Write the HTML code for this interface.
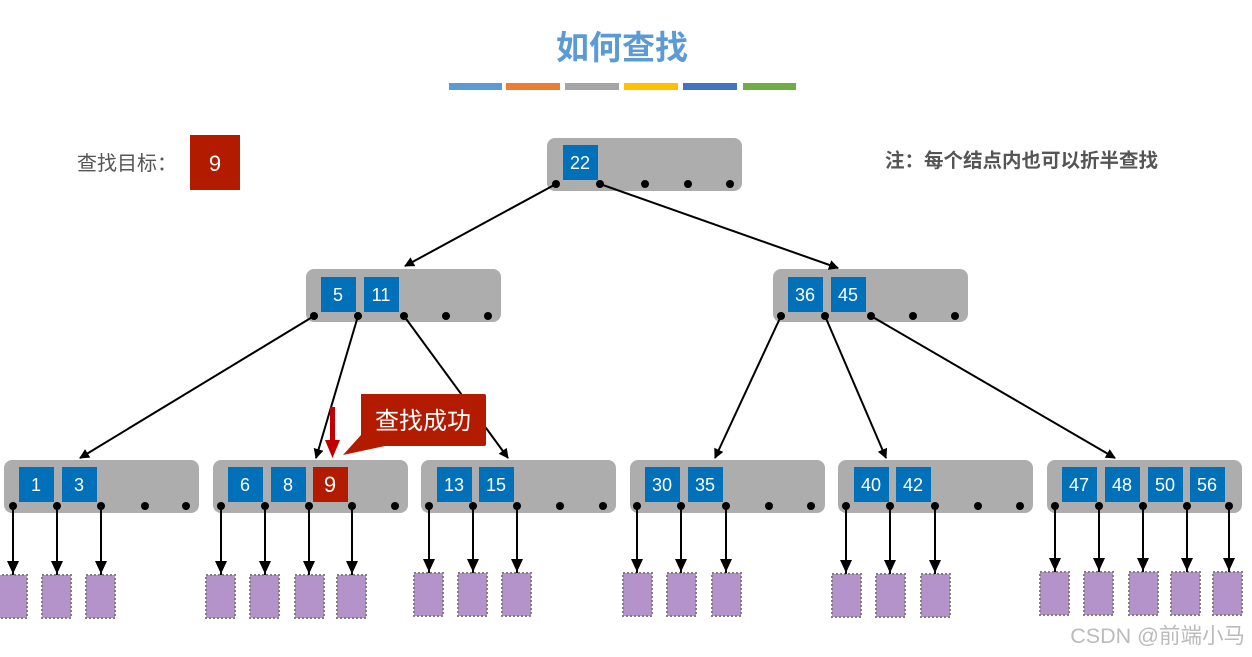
<!DOCTYPE html>
<html><head><meta charset="utf-8"><style>
html,body{margin:0;padding:0;background:#fff;width:1252px;height:657px;overflow:hidden}
svg text{font-family:"Liberation Sans","Noto Sans CJK SC",sans-serif}
</style></head><body>
<svg width="1252" height="657" viewBox="0 0 1252 657" xmlns="http://www.w3.org/2000/svg">
<defs>
<marker id="ar" markerWidth="10" markerHeight="10" refX="9" refY="5" orient="auto" markerUnits="userSpaceOnUse"><path d="M0,0 L10,5 L0,10 z" fill="#000"/></marker>
<marker id="ar2" markerWidth="14" markerHeight="14" refX="7" refY="14" orient="0" markerUnits="userSpaceOnUse"><path d="M1,0 L13,0 L7,13 z" fill="#000"/></marker>
</defs>
<text x="622" y="59" text-anchor="middle" font-size="33" font-weight="bold" fill="#5b9bd5">如何查找</text>
<g>
<rect x="449" y="83" width="53" height="7" fill="#5b9bd5"/>
<rect x="506" y="83" width="54" height="7" fill="#ed7d31"/>
<rect x="565" y="83" width="54" height="7" fill="#a5a5a5"/>
<rect x="624" y="83" width="54" height="7" fill="#ffc000"/>
<rect x="683" y="83" width="54" height="7" fill="#4472c4"/>
<rect x="743" y="83" width="53" height="7" fill="#70ad47"/>
</g>
<text x="77" y="170" font-size="20" fill="#555">查找目标：</text>
<rect x="190" y="135" width="50" height="55" fill="#b31b00"/>
<text x="215" y="171" text-anchor="middle" font-size="22" fill="#fff">9</text>
<text x="885" y="167" font-size="19.5" font-weight="bold" fill="#555">注：每个结点内也可以折半查找</text>

<g fill="#adadad">
<rect x="547" y="138" width="195" height="53" rx="8"/>
<rect x="306" y="269" width="195" height="53" rx="8"/>
<rect x="773" y="269" width="195" height="53" rx="8"/>
<rect x="4" y="460" width="195" height="53" rx="8"/>
<rect x="213" y="460" width="195" height="53" rx="8"/>
<rect x="421" y="460" width="195" height="53" rx="8"/>
<rect x="630" y="460" width="195" height="53" rx="8"/>
<rect x="838" y="460" width="195" height="53" rx="8"/>
<rect x="1047" y="460" width="195" height="53" rx="8"/>
</g>
<g fill="#0070b8">
<rect x="563" y="145" width="35" height="35"/>
<rect x="321" y="277" width="35" height="35"/><rect x="364" y="277" width="35" height="35"/>
<rect x="788" y="277" width="35" height="35"/><rect x="831" y="277" width="35" height="35"/>
<rect x="19" y="467" width="35" height="35"/><rect x="62" y="467" width="35" height="35"/>
<rect x="228" y="467" width="35" height="35"/><rect x="271" y="467" width="35" height="35"/>
<rect x="437" y="467" width="35" height="35"/><rect x="479" y="467" width="35" height="35"/>
<rect x="645" y="467" width="35" height="35"/><rect x="688" y="467" width="35" height="35"/>
<rect x="854" y="467" width="35" height="35"/><rect x="896" y="467" width="35" height="35"/>
<rect x="1062" y="467" width="35" height="35"/><rect x="1105" y="467" width="35" height="35"/><rect x="1148" y="467" width="35" height="35"/><rect x="1190" y="467" width="35" height="35"/>
</g>
<rect x="313" y="467" width="35" height="35" fill="#b31b00"/>
<g fill="#fff" font-size="18" text-anchor="middle">
<text x="580" y="169">22</text>
<text x="338" y="301">5</text><text x="381" y="301">11</text>
<text x="805" y="301">36</text><text x="848" y="301">45</text>
<text x="36" y="491">1</text><text x="79" y="491">3</text>
<text x="245" y="491">6</text><text x="288" y="491">8</text><text x="330" y="492" font-size="22">9</text>
<text x="454" y="491">13</text><text x="496" y="491">15</text>
<text x="662" y="491">30</text><text x="705" y="491">35</text>
<text x="871" y="491">40</text><text x="913" y="491">42</text>
<text x="1079" y="491">47</text><text x="1122" y="491">48</text><text x="1165" y="491">50</text><text x="1207" y="491">56</text>
</g>
<g fill="#000">
<circle cx="556" cy="184" r="4"/><circle cx="600" cy="184" r="4"/><circle cx="645" cy="184" r="4"/><circle cx="688" cy="184" r="4"/><circle cx="730" cy="184" r="4"/>
<circle cx="314" cy="316" r="4"/><circle cx="358" cy="316" r="4"/><circle cx="404" cy="316" r="4"/><circle cx="446" cy="316" r="4"/><circle cx="488" cy="316" r="4"/>
<circle cx="781" cy="316" r="4"/><circle cx="825" cy="316" r="4"/><circle cx="871" cy="316" r="4"/><circle cx="913" cy="316" r="4"/><circle cx="955" cy="316" r="4"/>
<circle cx="13" cy="506" r="4"/><circle cx="57" cy="506" r="4"/><circle cx="101" cy="506" r="4"/><circle cx="145" cy="506" r="4"/><circle cx="186" cy="506" r="4"/>
<circle cx="221" cy="506" r="4"/><circle cx="265" cy="506" r="4"/><circle cx="309" cy="506" r="4"/><circle cx="352" cy="506" r="4"/><circle cx="395" cy="506" r="4"/>
<circle cx="429" cy="506" r="4"/><circle cx="473" cy="506" r="4"/><circle cx="517" cy="506" r="4"/><circle cx="560" cy="506" r="4"/><circle cx="603" cy="506" r="4"/>
<circle cx="637" cy="506" r="4"/><circle cx="681" cy="506" r="4"/><circle cx="726" cy="506" r="4"/><circle cx="769" cy="506" r="4"/><circle cx="811" cy="506" r="4"/>
<circle cx="846" cy="506" r="4"/><circle cx="890" cy="506" r="4"/><circle cx="935" cy="506" r="4"/><circle cx="978" cy="506" r="4"/><circle cx="1020" cy="506" r="4"/>
<circle cx="1055" cy="506" r="4"/><circle cx="1099" cy="506" r="4"/><circle cx="1143" cy="506" r="4"/><circle cx="1187" cy="506" r="4"/><circle cx="1229" cy="506" r="4"/>
</g>
<g stroke="#000" stroke-width="2" marker-end="url(#ar)">
<line x1="556" y1="184" x2="405" y2="266"/>
<line x1="600" y1="184" x2="838" y2="268"/>
<line x1="314" y1="316" x2="80" y2="458"/>
<line x1="358" y1="316" x2="316" y2="458"/>
<line x1="404" y1="316" x2="508" y2="458"/>
<line x1="781" y1="316" x2="715" y2="458"/>
<line x1="825" y1="316" x2="886" y2="458"/>
<line x1="871" y1="316" x2="1115" y2="458"/>
</g>
<g fill="#b393c9" stroke="#808080" stroke-width="2" stroke-dasharray="2,2">
<rect x="-2" y="575" width="29" height="43"/><rect x="42" y="575" width="29" height="43"/><rect x="86" y="575" width="29" height="43"/>
<rect x="206" y="575" width="29" height="43"/><rect x="250" y="575" width="29" height="43"/><rect x="295" y="575" width="29" height="43"/><rect x="337" y="575" width="29" height="43"/>
<rect x="414" y="573" width="29" height="43"/><rect x="458" y="573" width="29" height="43"/><rect x="502" y="573" width="29" height="43"/>
<rect x="623" y="573" width="29" height="43"/><rect x="667" y="573" width="29" height="43"/><rect x="712" y="573" width="29" height="43"/>
<rect x="832" y="574" width="29" height="43"/><rect x="876" y="574" width="29" height="43"/><rect x="921" y="574" width="29" height="43"/>
<rect x="1040" y="572" width="29" height="43"/><rect x="1084" y="572" width="29" height="43"/><rect x="1129" y="572" width="29" height="43"/><rect x="1171" y="572" width="29" height="43"/><rect x="1213" y="572" width="29" height="43"/>
</g>
<g stroke="#000" stroke-width="2" marker-end="url(#ar2)">
<line x1="13" y1="506" x2="13" y2="575"/><line x1="57" y1="506" x2="57" y2="575"/><line x1="101" y1="506" x2="101" y2="575"/>
<line x1="221" y1="506" x2="221" y2="575"/><line x1="265" y1="506" x2="265" y2="575"/><line x1="309" y1="506" x2="309" y2="575"/><line x1="352" y1="506" x2="352" y2="575"/>
<line x1="429" y1="506" x2="429" y2="573"/><line x1="473" y1="506" x2="473" y2="573"/><line x1="517" y1="506" x2="517" y2="573"/>
<line x1="637" y1="506" x2="637" y2="573"/><line x1="681" y1="506" x2="681" y2="573"/><line x1="726" y1="506" x2="726" y2="573"/>
<line x1="846" y1="506" x2="846" y2="574"/><line x1="890" y1="506" x2="890" y2="574"/><line x1="935" y1="506" x2="935" y2="574"/>
<line x1="1055" y1="506" x2="1055" y2="572"/><line x1="1099" y1="506" x2="1099" y2="572"/><line x1="1143" y1="506" x2="1143" y2="572"/><line x1="1187" y1="506" x2="1187" y2="572"/><line x1="1229" y1="506" x2="1229" y2="572"/>
</g>
<path d="M361,394 L484,394 Q486,394 486,396 L486,444 Q486,446 484,446 L385,446 L343,455 L361,435 Z" fill="#b31b00"/>
<text x="423" y="429" text-anchor="middle" font-size="24" fill="#fff">查找成功</text>
<rect x="330" y="407" width="5" height="36" fill="#c00000"/>
<path d="M325,440 L340,440 L332.5,458 Z" fill="#c00000"/>
<text x="1245" y="643" text-anchor="end" font-size="21.5" fill="#bbb">CSDN @前端小马</text>
</svg>
</body></html>
